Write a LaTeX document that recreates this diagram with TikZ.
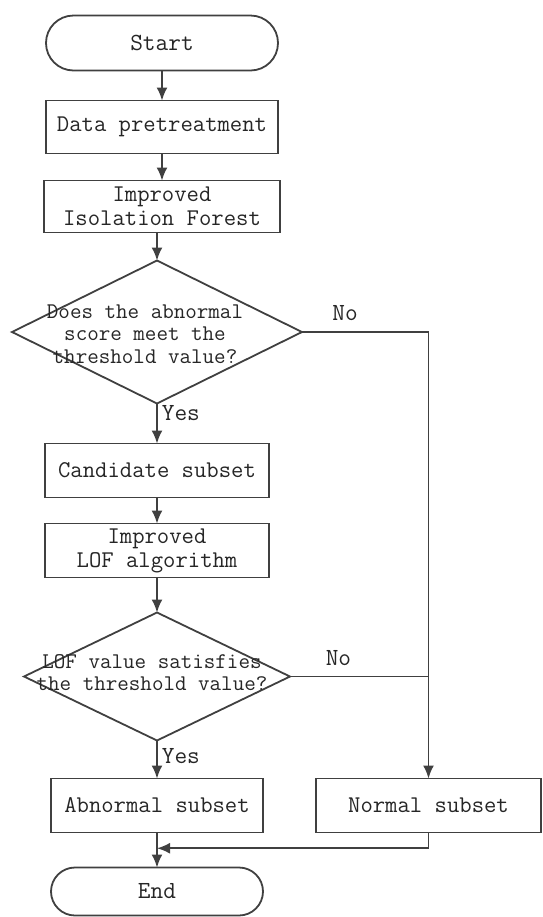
\documentclass[tikz,border=0pt]{standalone}
\usepackage{xcolor}
\usepackage{tikz}
\usetikzlibrary{arrows.meta}
\usetikzlibrary{calc}
\usetikzlibrary{positioning}
\usetikzlibrary{shapes.geometric}
\usetikzlibrary{shapes.misc}

\begin{document}
\begin{tikzpicture}
[
	line width = 0.9pt,
	flow/.style = {draw = black!75, -{Latex[length = 6.5pt, width = 5.5pt]}},
	link/.style = {draw = black!75},
	term/.style = {rounded rectangle, draw = black!75, fill = white, minimum width = 116pt, minimum height = 27.5pt, inner sep = 0pt, outer sep = 0pt, font = \ttfamily\fontsize{12.3}{12}\selectfont, text = black!85},
	proc/.style = {rectangle, draw = black!75, fill = white, minimum width = 112pt, minimum height = 27pt, inner sep = 0pt, outer sep = 0pt, align = center, font = \ttfamily\fontsize{12}{12}\selectfont, text = black!85},
	decision/.style = {diamond, draw = black!75, fill = white, minimum width = 145pt, minimum height = 71.5pt, inner sep = 0pt, outer sep = 0pt},
	qtext/.style = {align = center, inner sep = 0pt, font = \ttfamily\fontsize{11.2}{11.2}\selectfont, text = black!85},
	lbl/.style = {inner sep = 2pt, font = \ttfamily\fontsize{12.3}{10}\selectfont, text = black!85},
]

	\useasboundingbox (0,0) rectangle (271pt,-458.5pt);

	% main column
	\node (start) [term] at (81pt,-21.5pt) {Start};
	\node (pre) [proc, below = 15pt of start, minimum width = 116pt, minimum height = 26.5pt] {Data pretreatment};
	\node (iforest) [proc, below = 13.5pt of pre, minimum width = 118pt, minimum height = 26pt] {Improved\\Isolation Forest};
	%
	\node (dec1) [decision, below = 14pt of iforest, xshift = -2.5pt] {};
	\node (q1) [qtext, xshift = -6pt, yshift = -1pt] at (dec1) {Does the abnormal\\score meet the\\threshold value?};
	%
	\node (cand) [proc, below = 20pt of dec1] {Candidate subset};
	\node (lof) [proc, below = 13pt of cand] {Improved\\LOF algorithm};
	%
	\node (dec2) [decision, below = 17.5pt of lof, minimum width = 133pt, minimum height = 64pt] {};
	\node (q2) [qtext, xshift = -2.5pt, yshift = 2pt] at (dec2) {LOF value satisfies\\the threshold value?};

	% results
	\node (abn) [proc, below = 19pt of dec2, minimum width = 106pt] {Abnormal subset};
	\node (norm) [proc, right = 26.5pt of abn, minimum width = 112.5pt] {Normal subset};
	\node (end) [term, below = 17.5pt of abn, minimum width = 106pt, minimum height = 24pt] {End};

	% paths
	\draw [flow] (start) -- (pre);
	\draw [flow] (pre) -- (iforest);
	\draw [flow] (iforest.south -| dec1.north) -- (dec1.north);
	\draw [flow] (dec1) -- node [lbl, right, pos = 0.25] {Yes} (cand);
	\draw [flow] (cand) -- (lof);
	\draw [flow] (lof) -- (dec2);
	\draw [flow] (dec2) -- node [lbl, right, pos = 0.4] {Yes} (abn);
	%
	\draw [flow] (dec1.east) -| node [lbl, above, pos = 0.17, yshift = 3pt] {No} (norm.north);
	\draw [link] (dec2.east) -- node [lbl, above, pos = 0.35, yshift = 3pt] {No} (dec2.east -| norm.north);
	%
	\coordinate (merge) at ($(abn.south)!0.45!(end.north)$);
	\draw [flow] (norm.south) |- (merge);
	\draw [flow] (abn) -- (end);

\end{tikzpicture}
\end{document}
